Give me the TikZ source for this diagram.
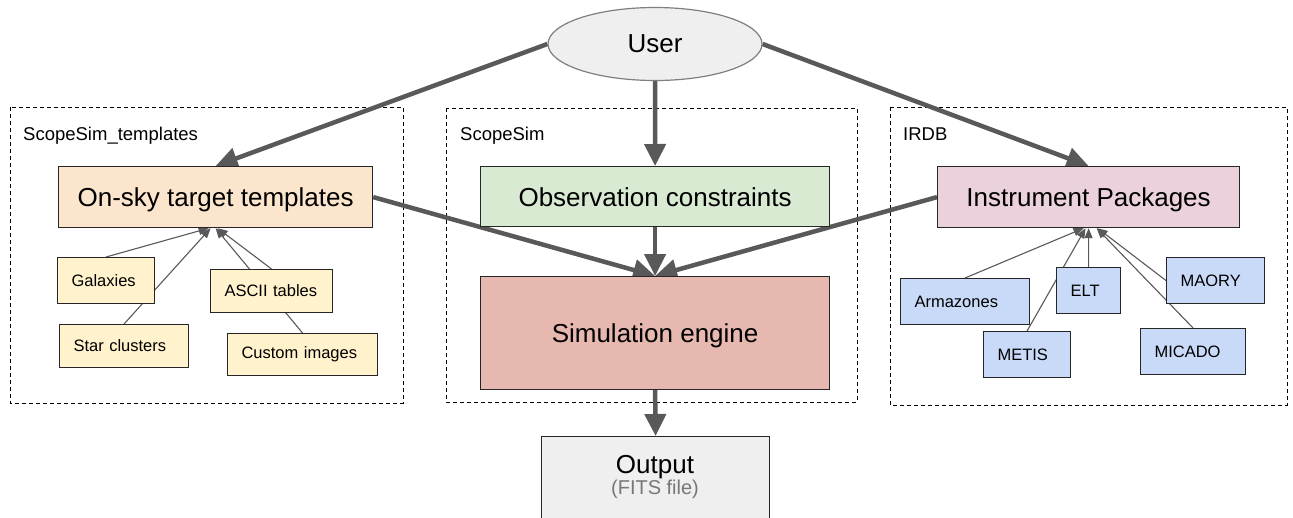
\documentclass[tikz,border=0pt]{standalone}
\usepackage{fontspec}
\setmainfont{Liberation Sans}
\usetikzlibrary{arrows.meta,shapes.geometric,calc}
\pgfdeclarelayer{back}
\pgfdeclarelayer{bg}
\pgfsetlayers{back,bg,main}
\definecolor{arrowgrey}{HTML}{595959}
\definecolor{orangefill}{HTML}{FCE5CD}
\definecolor{yellowfill}{HTML}{FFF2CC}
\definecolor{greenfill}{HTML}{D9EAD3}
\definecolor{redfill}{HTML}{E6B8AF}
\definecolor{magentafill}{HTML}{EAD1DC}
\definecolor{bluefill}{HTML}{C9DAF8}
\definecolor{greyfill}{HTML}{EFEFEF}
\definecolor{ellipseline}{HTML}{7F7F7F}
\definecolor{subtext}{HTML}{777777}
\tikzset{
  bigbox/.style={draw=black!85, line width=1.2pt, anchor=north west, inner sep=0pt, align=center,
    font=\fontsize{26}{30}\selectfont, text depth=0pt},
  smallbox/.style={draw=black!85, line width=1.1pt, anchor=north west, inner xsep=14pt, inner ysep=0pt,
    align=left, font=\fontsize{16.5}{19}\selectfont},
  grouplabel/.style={anchor=base west, inner sep=0pt, font=\fontsize{18.5}{21}\selectfont},
  groupbox/.style={draw=black, line width=1pt, dash pattern=on 4pt off 3pt},
  bigarrow/.style={draw=arrowgrey, line width=4.5pt, -{Triangle[length=22pt,width=21pt]}},
  thinarrow/.style={draw=arrowgrey, line width=1.1pt, -{Triangle[length=10pt,width=8pt]}},
}
\begin{document}
\begin{tikzpicture}[x=1pt,y=-1pt]
\begin{pgfonlayer}{back}
\fill[white] (0,0) rectangle (1293,517);
\end{pgfonlayer}
\useasboundingbox (0,0) rectangle (1293,517);

% group boxes
\begin{pgfonlayer}{bg}
\draw[groupbox] (10,107) rectangle (403,403);
\draw[groupbox] (446,108) rectangle (857,402);
\draw[groupbox] (890,107) rectangle (1287,405);
\end{pgfonlayer}
\node[grouplabel] (lbltempl) at (23,140) {ScopeSim\_templates};
\node[grouplabel] (lblscope) at (460,140) {ScopeSim};
\node[grouplabel] (lblirdb) at (903,140) {IRDB};

% user
\node[ellipse, draw=ellipseline, line width=1.2pt, fill=greyfill, minimum width=214pt, minimum height=73pt,
  inner sep=0pt, font=\fontsize{26}{30}\selectfont] (user) at (655,44) {User};

% main boxes
\node[bigbox, fill=orangefill, minimum width=314pt, minimum height=61pt] (onsky) at (58,166) {On-sky target templates};
\node[bigbox, fill=greenfill, minimum width=349pt, minimum height=60pt] (obs) at (480,166) {Observation constraints};
\node[bigbox, fill=redfill, minimum width=349pt, minimum height=113pt] (sim) at (480,276) {Simulation engine};
\node[bigbox, fill=magentafill, minimum width=302pt, minimum height=61pt] (ip) at (937,166) {Instrument Packages};
\node[bigbox, fill=greyfill, minimum width=228pt, minimum height=100pt] (out) at (541,436) {};
\node[font=\fontsize{26}{30}\selectfont, inner sep=0pt, anchor=base] (outtext) at (655,473) {Output};
\node[font=\fontsize{20}{24}\selectfont, text=subtext, inner sep=0pt, anchor=base] (outsub) at (655,494) {(FITS file)};

% template sources
\node[smallbox, fill=yellowfill, text width=69pt, minimum height=46pt] (gal) at (57,257) {Galaxies};
\node[smallbox, fill=yellowfill, text width=101pt, minimum height=43pt] (star) at (59,324) {Star clusters};
\node[smallbox, fill=yellowfill, text width=94pt, minimum height=43pt] (ascii) at (210,269) {ASCII tables};
\node[smallbox, fill=yellowfill, text width=122pt, minimum height=42pt] (custom) at (227,333) {Custom images};

% instrument packages
\node[smallbox, fill=bluefill, text width=101pt, minimum height=46pt] (arm) at (900,278) {Armazones};
\node[smallbox, fill=bluefill, text width=36pt, minimum height=46pt] (elt) at (1056,267) {ELT};
\node[smallbox, fill=bluefill, text width=59pt, minimum height=46pt] (metis) at (983,331) {METIS};
\node[smallbox, fill=bluefill, text width=70pt, minimum height=46pt] (maory) at (1166,257) {MAORY};
\node[smallbox, fill=bluefill, text width=77pt, minimum height=46pt] (micado) at (1140,328) {MICADO};

% thick connectors
\begin{pgfonlayer}{bg}
\draw[bigarrow] (user.west) -- (onsky.north);
\draw[bigarrow] (user.east) -- (ip.north);
\draw[bigarrow] (user.south) -- (obs.north);
\draw[bigarrow] (onsky.east) -- (sim.north);
\draw[bigarrow] (obs.south) -- (sim.north);
\draw[bigarrow] (ip.west) -- (sim.north);
\draw[bigarrow] (sim.south) -- (out.north);

% thin connectors
\coordinate (os1) at ([xshift=-7pt]onsky.south);
\coordinate (os2) at ([xshift=-5pt]onsky.south);
\coordinate (os3) at ([xshift=2pt]onsky.south);
\coordinate (os4) at ([xshift=0pt]onsky.south);
\draw[thinarrow] (gal.north) -- (os1);
\draw[thinarrow] (star.north) -- (os2);
\draw[thinarrow] (ascii.north) -- (os3);
\draw[thinarrow] (custom.north) -- (os4);

\coordinate (ip1) at ([xshift=-5pt]ip.south);
\coordinate (ip2) at ([xshift=-3pt]ip.south);
\coordinate (ip3) at ([xshift=9pt]ip.south);
\coordinate (ip4) at ([xshift=8pt]ip.south);
\draw[thinarrow] (arm.north) -- (ip1);
\draw[thinarrow] (metis.north) -- (ip2);
\draw[thinarrow] (elt.north) -- (ip.south);
\draw[thinarrow] (maory.west) -- (ip3);
\draw[thinarrow] (micado.north) -- (ip4);
\end{pgfonlayer}
\end{tikzpicture}
\end{document}
